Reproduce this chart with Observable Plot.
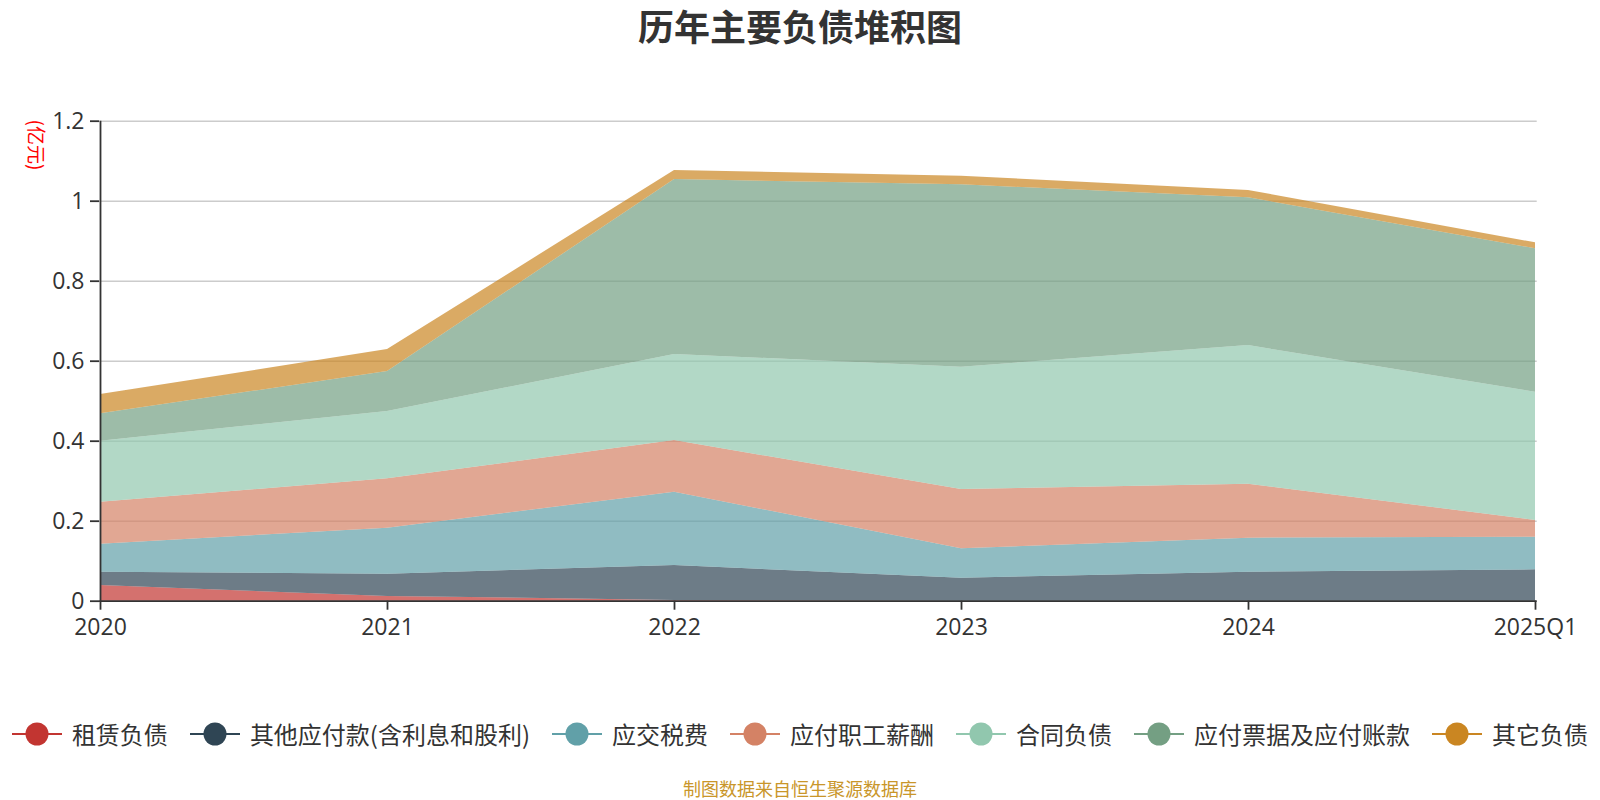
<!DOCTYPE html>
<html>
<head>
<meta charset="utf-8">
<script src="https://cdn.jsdelivr.net/npm/d3@7"></script>
<script src="https://cdn.jsdelivr.net/npm/@observablehq/plot@0.6"></script>
<style>
  body { margin: 0; background: #fff; font-family: "Noto Sans CJK SC", "Noto Sans", sans-serif; }
  #wrap { position: relative; width: 1600px; height: 800px; overflow: hidden; background: #fff; }
  #title { position: absolute; top: 0; left: 0; width: 1600px; text-align: center; font-size: 36px; font-weight: bold; color: #333; line-height: 50px; }
  #chart { position: absolute; left: 0; top: 52px; }
  #unit { position: absolute; left: 37px; top: 145px; transform: translate(-50%, -50%) rotate(90deg); font-size: 19px; color: #ff0000; white-space: nowrap; line-height: 20px; }
  #legend { position: absolute; left: 0; top: 719px; width: 1600px; height: 30px; display: flex; justify-content: center; align-items: center; gap: 22px; font-size: 24px; color: #333; }
  .item { display: flex; align-items: center; gap: 10px; line-height: 30px; white-space: nowrap; }
  .item svg { display: block; }
  #caption { position: absolute; left: 0; top: 778px; width: 1600px; text-align: center; font-size: 18px; line-height: 20px; color: #c9962a; }
</style>
</head>
<body>
<div id="wrap">
  <div id="title">历年主要负债堆积图</div>
  <div id="chart"></div>
  <div id="unit">(亿元)</div>
  <div id="legend"></div>
  <div id="caption">制图数据来自恒生聚源数据库</div>
</div>
<script>
// ---- data (亿元) ----
const years = ["2020", "2021", "2022", "2023", "2024", "2025Q1"];
const seriesNames = ["租赁负债", "其他应付款(含利息和股利)", "应交税费", "应付职工薪酬", "合同负债", "应付票据及应付账款", "其它负债"];
const seriesColors = ["#c23531", "#2f4554", "#61a0a8", "#d48265", "#91c7ae", "#749f83", "#ca8622"];
const leaseLiab      = [0.039, 0.012, 0.002, 0, 0, 0];
const otherPayables  = [0.0335, 0.0555, 0.087, 0.0575, 0.0725, 0.0785];
const taxesPayable   = [0.070, 0.115, 0.1835, 0.0735, 0.085, 0.0815];
const staffPayable   = [0.105, 0.1235, 0.129, 0.148, 0.135, 0.042];
const contractLiab   = [0.1525, 0.168, 0.2155, 0.306, 0.3465, 0.3205];
const notesAccounts  = [0.0685, 0.100, 0.437, 0.456, 0.3695, 0.3585];
const otherLiab      = [0.048, 0.055, 0.0225, 0.0215, 0.0185, 0.015];
const yTicks = [0, 0.2, 0.4, 0.6, 0.8, 1, 1.2];

const seriesValues = [leaseLiab, otherPayables, taxesPayable, staffPayable, contractLiab, notesAccounts, otherLiab];
const rows = [];
seriesNames.forEach((name, i) => {
  years.forEach((y, j) => rows.push({ series: name, year: y, value: seriesValues[i][j] }));
});

const chart = Plot.plot({
  width: 1600,
  height: 608,
  marginTop: 68.7,
  marginBottom: 59.3,
  marginLeft: 99,
  marginRight: 63.3,
  style: { fontFamily: '"Open Sans", "Noto Sans CJK SC", sans-serif', fontSize: "23px", color: "#333", background: "transparent", overflow: "visible" },
  x: { type: "point", domain: years, padding: 0, label: null },
  y: { domain: [0, 1.2], label: null },
  color: { domain: seriesNames, range: seriesColors },
  marks: [
    Plot.gridY(yTicks.slice(1), { stroke: "#ccc", strokeOpacity: 1, strokeWidth: 1.5 }),
    Plot.areaY(rows, { x: "year", y: "value", fill: "series", fillOpacity: 0.7, order: seriesNames, curve: "linear" }),
    Plot.axisY(yTicks, { tickSize: 9, tickPadding: 6, tickFormat: d => d3.format("~g")(d), stroke: "#333", strokeWidth: 1.8, strokeOpacity: 1, fill: "#333", fontSize: 23, label: null }),
    Plot.axisX(years, { tickSize: 9, tickPadding: 8, stroke: "#333", strokeWidth: 1.8, strokeOpacity: 1, fill: "#333", fontSize: 23, label: null }),
    Plot.ruleX([years[0]], { stroke: "#333", strokeWidth: 1.8 }),
    Plot.ruleY([0], { stroke: "#333", strokeWidth: 1.8 })
  ]
});
document.getElementById("chart").appendChild(chart);

// legend
const legend = document.getElementById("legend");
seriesNames.forEach((name, i) => {
  const item = document.createElement("div");
  item.className = "item";
  item.innerHTML = `<svg width="50" height="26"><line x1="0" x2="50" y1="13" y2="13" stroke="${seriesColors[i]}" stroke-width="2.2"/><circle cx="25" cy="13" r="11.5" fill="${seriesColors[i]}"/></svg><span>${name}</span>`;
  legend.appendChild(item);
});
</script>
</body>
</html>
